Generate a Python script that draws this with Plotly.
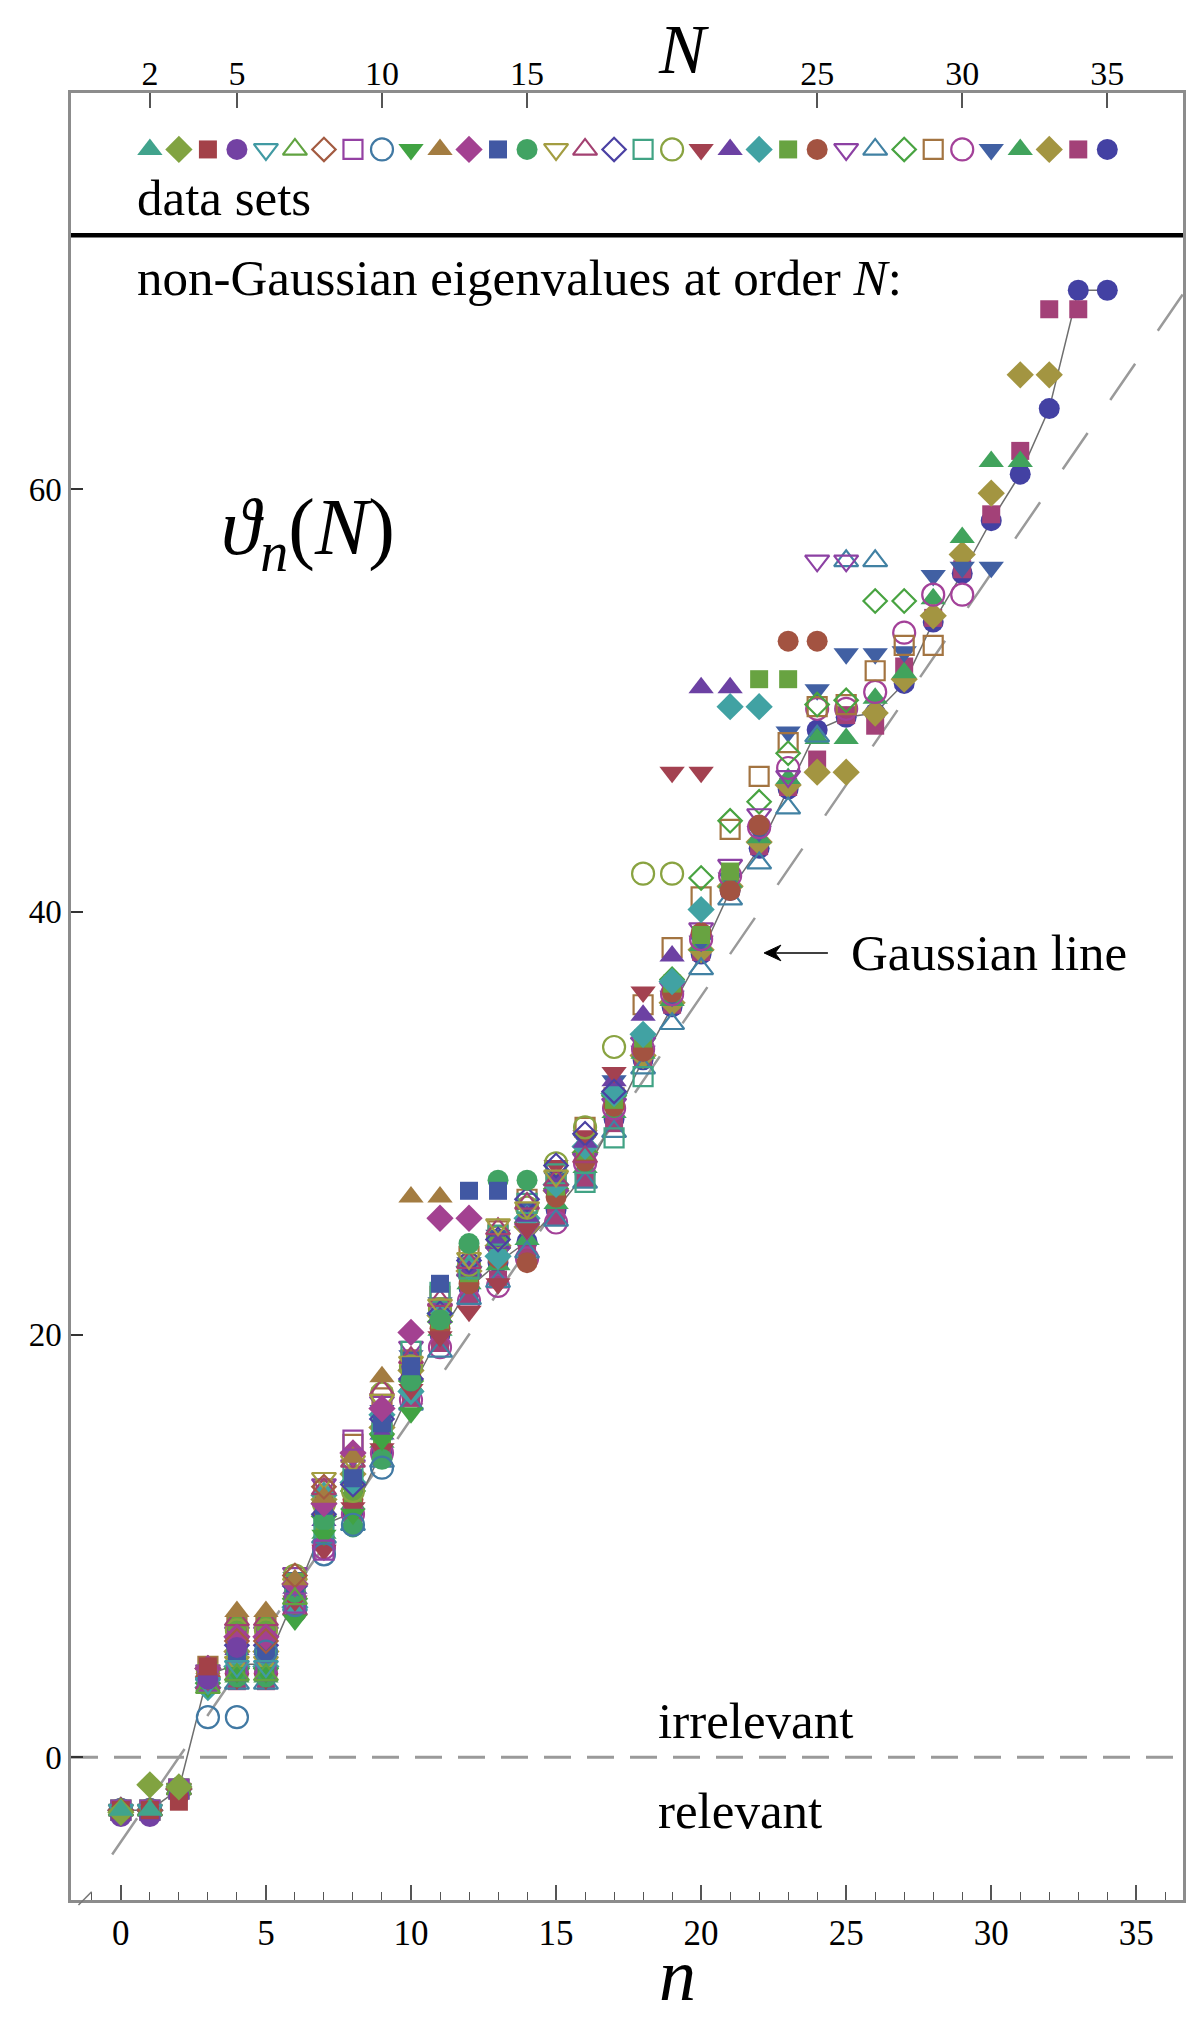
import colorsys
import plotly.graph_objects as go

# ---------------- data: eigenvalues theta_n(N), n = 0..N-1 ----------------
theta_N2 = [-2.5, -2.5]
theta_N3 = [-2.6, -1.3, -1.4]
theta_N4 = [-2.5, -2.5, -2.1, 4.3]
theta_N5 = [-2.8, -2.8, -1.8, 3.7, 5.2]
theta_N6 = [-2.5, -2.5, -1.6, 3.5, 4.3, 4.3]
theta_N7 = [-2.5, -2.5, -1.5, 3.3, 3.9, 3.9, 7.5]
theta_N8 = [-2.5, -2.5, -1.5, 3.8, 5.5, 5.5, 8.6, 12.8]
theta_N9 = [-2.5, -2.5, -1.5, 3.6, 4.1, 4.1, 7.3, 9.8, 15.0]
theta_N10 = [-2.5, -2.5, -1.5, 1.9, 1.9, 5.0, 7.2, 9.6, 11.0, 13.7]
theta_N11 = [-2.5, -2.5, -1.5, 3.3, 4.0, 4.0, 6.5, 10.5, 11.5, 15.0, 16.3]
theta_N12 = [-2.5, -2.5, -1.5, 4.2, 6.9, 6.9, 8.4, 12.3, 14.2, 18.0, 26.5, 26.5]
theta_N13 = [-2.5, -2.5, -1.5, 4.2, 5.7, 5.7, 8.2, 12.0, 14.4, 16.5, 20.1, 25.5, 25.5]
theta_N14 = [-2.5, -2.5, -1.5, 4.1, 5.0, 5.0, 8.1, 11.9, 13.2, 15.8, 18.5, 22.4, 26.8, 26.8]
theta_N15 = [-2.5, -2.5, -1.5, 4.0, 3.8, 3.8, 7.8, 11.2, 10.9, 14.1, 17.8, 20.7, 24.3, 27.3, 27.3]
theta_N16 = [-2.5, -2.5, -1.5, 4.0, 4.5, 4.5, 8.2, 13.2, 14.0, 16.9, 18.7, 21.4, 23.6, 25.2, 26.0, 27.5]
theta_N17 = [-2.5, -2.5, -1.5, 3.5, 6.5, 6.5, 7.0, 12.7, 14.0, 17.4, 18.9, 21.6, 23.4, 25.0, 26.2, 27.3, 28.4]
theta_N18 = [-2.5, -2.5, -1.5, 4.2, 5.3, 5.3, 8.1, 11.5, 12.9, 16.0, 17.9, 21.0, 23.5, 24.5, 26.4, 28.0, 29.5, 31.5]
theta_N19 = [-2.5, -2.5, -1.5, 3.8, 4.8, 4.8, 7.7, 10.9, 13.6, 15.5, 19.2, 22.0, 23.1, 24.7, 26.2, 27.6, 27.2, 29.3, 32.2]
theta_N20 = [-2.5, -2.5, -1.5, 4.1, 6.0, 6.0, 8.6, 12.0, 12.6, 17.2, 18.5, 21.2, 23.3, 24.6, 26.0, 28.1, 29.8, 33.6, 41.8, 41.8]
theta_N21 = [-2.5, -2.5, -1.5, 3.6, 3.7, 3.7, 7.4, 9.8, 11.8, 14.6, 17.4, 19.9, 21.1, 22.4, 25.0, 28.0, 29.4, 32.4, 36.2, 46.6, 46.6]
theta_N22 = [-2.5, -2.5, -1.5, 4.0, 5.1, 5.1, 8.0, 11.2, 14.5, 15.3, 18.6, 20.8, 23.0, 24.3, 25.6, 27.3, 29.1, 32.0, 35.1, 37.9, 50.6, 50.6]
theta_N23 = [-2.5, -2.5, -1.5, 3.3, 4.3, 4.3, 7.1, 12.4, 13.0, 16.2, 17.3, 21.0, 23.2, 23.7, 25.5, 27.1, 28.9, 31.4, 34.2, 36.7, 40.1, 49.7, 49.7]
theta_N24 = [-2.5, -2.5, -1.5, 4.2, 6.4, 6.4, 8.3, 10.8, 12.3, 15.2, 18.1, 20.7, 22.9, 24.2, 25.4, 27.0, 28.7, 31.1, 34.0, 36.6, 38.9, 41.9, 51.0, 51.0]
theta_N25 = [-2.5, -2.5, -1.5, 3.7, 4.9, 4.9, 7.8, 11.6, 12.2, 15.8, 18.0, 20.3, 22.4, 23.6, 23.4, 26.5, 28.2, 30.8, 33.4, 36.2, 39.0, 41.0, 44.1, 52.8, 52.8]
theta_N26 = [-2.5, -2.5, -1.5, 4.1, 5.9, 5.9, 8.7, 12.9, 13.8, 16.8, 19.4, 21.2, 22.6, 23.9, 25.0, 26.6, 28.3, 30.9, 33.8, 36.4, 39.2, 42.2, 44.6, 46.4, 56.6, 56.6]
theta_N27 = [-2.5, -2.5, -1.5, 3.9, 3.5, 3.5, 7.2, 10.4, 11.0, 14.0, 16.7, 19.2, 21.7, 22.5, 23.9, 25.4, 27.2, 29.6, 32.6, 34.7, 37.3, 40.6, 42.3, 44.9, 48.3, 56.6, 56.6]
theta_N28 = [-2.5, -2.5, -1.5, 3.5, 4.2, 4.2, 7.5, 11.4, 12.6, 15.3, 17.8, 20.6, 22.8, 24.1, 25.3, 26.9, 28.6, 31.3, 34.0, 36.8, 41.6, 44.3, 45.2, 47.5, 49.8, 50.0, 54.7, 54.7]
theta_N29 = [-2.5, -2.5, -1.5, 4.3, 6.2, 6.2, 8.0, 12.6, 14.8, 17.0, 18.8, 21.8, 23.7, 24.9, 26.4, 27.6, 29.8, 31.2, 35.6, 38.3, 40.7, 43.9, 46.4, 48.0, 49.7, 49.8, 51.4, 52.6, 52.6]
theta_N30 = [-2.5, -2.5, -1.5, 3.8, 4.0, 4.0, 6.9, 9.9, 11.5, 14.4, 16.9, 19.4, 21.6, 22.3, 23.6, 25.3, 28.1, 30.7, 33.5, 36.1, 38.7, 41.7, 44.0, 46.8, 49.6, 49.6, 50.4, 53.2, 55.0, 55.0]
theta_N31 = [-2.5, -2.5, -1.5, 4.0, 5.4, 5.4, 8.5, 11.8, 14.2, 16.4, 19.0, 21.5, 23.4, 24.7, 26.0, 27.4, 29.2, 32.0, 33.4, 36.0, 38.6, 41.6, 43.8, 48.5, 50.5, 52.2, 52.2, 52.3, 55.9, 56.3, 56.3]
theta_N32 = [-2.5, -2.5, -1.5, 3.4, 3.8, 3.8, 7.3, 10.6, 12.0, 14.9, 17.6, 20.2, 22.4, 23.3, 24.5, 26.2, 27.9, 30.5, 33.3, 35.8, 38.4, 41.4, 43.5, 46.3, 48.2, 48.2, 50.1, 51.3, 54.8, 57.7, 61.3, 61.3]
theta_N33 = [-2.5, -2.5, -1.5, 4.2, 5.0, 5.0, 8.2, 12.2, 13.4, 15.6, 18.3, 20.9, 23.0, 24.2, 25.1, 26.8, 28.6, 31.4, 33.2, 35.7, 38.2, 41.2, 43.3, 46.0, 46.6, 46.6, 49.4, 51.0, 54.0, 56.9, 59.8, 65.4, 65.4]
theta_N34 = [-2.5, -2.5, -1.5, 3.6, 3.6, 3.6, 7.0, 10.2, 11.2, 14.2, 17.0, 19.6, 21.8, 22.6, 23.8, 25.6, 27.4, 30.0, 33.1, 35.6, 38.1, 41.1, 43.1, 45.9, 47.2, 49.3, 48.8, 51.6, 53.9, 56.2, 58.8, 61.8, 68.5, 68.5]
theta_N35 = [-2.5, -2.5, -1.5, 3.9, 4.4, 4.4, 7.6, 11.0, 11.6, 14.5, 17.4, 20.0, 22.2, 23.4, 24.4, 25.9, 27.6, 30.2, 33.0, 35.5, 38.0, 41.0, 43.0, 45.8, 48.6, 49.2, 49.4, 50.8, 53.7, 56.0, 58.5, 60.7, 63.8, 69.4, 69.4]

data_sets = {
    2: theta_N2, 3: theta_N3, 4: theta_N4, 5: theta_N5, 6: theta_N6, 7: theta_N7,
    8: theta_N8, 9: theta_N9, 10: theta_N10, 11: theta_N11, 12: theta_N12,
    13: theta_N13, 14: theta_N14, 15: theta_N15, 16: theta_N16, 17: theta_N17,
    18: theta_N18, 19: theta_N19, 20: theta_N20, 21: theta_N21, 22: theta_N22,
    23: theta_N23, 24: theta_N24, 25: theta_N25, 26: theta_N26, 27: theta_N27,
    28: theta_N28, 29: theta_N29, 30: theta_N30, 31: theta_N31, 32: theta_N32,
    33: theta_N33, 34: theta_N34, 35: theta_N35,
}

top_tick_N = [2, 5, 10, 15, 25, 30, 35]
y_tick_vals = [0, 20, 40, 60]
x_tick_vals = [0, 5, 10, 15, 20, 25, 30, 35]

# ---------------- styles ----------------
FONT = "Liberation Serif"
SYMBOLS = ["circle", "square", "diamond", "triangle-up", "triangle-down",
           "circle-open", "square-open", "diamond-open", "triangle-up-open",
           "triangle-down-open"]
SIZES = {"circle": 21, "square": 18, "diamond": 21, "triangle-up": 22,
         "triangle-down": 22, "circle-open": 22, "square-open": 19,
         "diamond-open": 18, "triangle-up-open": 21, "triangle-down-open": 21}
ROW_Y = 76.06


def style_for(N):
    k = 35 - N
    h = (0.67 + 0.236068 * k) % 1.0
    r, g, b = colorsys.hsv_to_rgb(h, 0.6, 0.64)
    col = "rgb(%d,%d,%d)" % (round(r * 255), round(g * 255), round(b * 255))
    sym = SYMBOLS[k % 10]
    return col, sym


def marker_for(N):
    col, sym = style_for(N)
    is_open = sym.endswith("open")
    return dict(symbol=sym, size=SIZES[sym], color=col,
                line=dict(color=col, width=2.2 if is_open else 0))


fig = go.Figure()

# joined line for the highest order
fig.add_trace(go.Scatter(
    x=list(range(len(theta_N35))), y=theta_N35, mode="lines",
    line=dict(color="#6e6e6e", width=1.5), hoverinfo="skip", showlegend=False))

for N in sorted(data_sets.keys(), reverse=True):
    vals = data_sets[N]
    fig.add_trace(go.Scatter(x=list(range(len(vals))), y=vals, mode="markers",
                             marker=marker_for(N), showlegend=False,
                             name="N=%d" % N))

# data-set row (on top axis, positioned at n = N-1)
for N in sorted(data_sets.keys(), reverse=True):
    fig.add_trace(go.Scatter(
        x=[N - 1], y=[ROW_Y], xaxis="x2", mode="markers",
        marker=marker_for(N), showlegend=False, cliponaxis=False))

XR = [-1.719, 36.61]
YR = [-6.75, 78.73]
axis_line = "#8c8c8c"

fig.update_layout(
    width=1187, height=2019,
    margin=dict(l=71, r=1, t=93, b=119),
    paper_bgcolor="white", plot_bgcolor="white",
    font=dict(family=FONT, color="black"),
    xaxis=dict(range=XR, showgrid=False, zeroline=False, showline=True,
               linecolor=axis_line, linewidth=2.5, mirror=True,
               tickmode="array", tickvals=x_tick_vals, ticks="inside",
               ticklen=15, tickwidth=1.5, tickcolor="#555555",
               minor=dict(tickmode="linear", tick0=0, dtick=1, ticks="inside",
                          ticklen=8, tickwidth=1.2, tickcolor="#555555"),
               tickfont=dict(family=FONT, size=35, color="black")),
    xaxis2=dict(range=XR, overlaying="x", side="top", anchor="y",
                showgrid=False, zeroline=False, showline=False,
                tickmode="array", tickvals=[N - 1 for N in top_tick_N],
                ticktext=[str(N) for N in top_tick_N], ticks="inside",
                ticklen=15, tickwidth=1.5, tickcolor="#555555",
                tickfont=dict(family=FONT, size=34, color="black")),
    yaxis=dict(range=YR, showgrid=False, zeroline=False, showline=True,
               linecolor=axis_line, linewidth=2.5, mirror=True,
               tickmode="array", tickvals=y_tick_vals, ticks="inside",
               ticklen=12, tickwidth=1.8, tickcolor="#333333",
               tickfont=dict(family=FONT, size=33, color="black")),
)

shapes = [
    # zero line
    dict(type="line", xref="x", yref="y", x0=XR[0], x1=XR[1], y0=0, y1=0,
         line=dict(color="#9a9a9a", width=3, dash="27px,16px"), layer="below"),
    # Gaussian line theta = 2n - 4
    dict(type="line", xref="x", yref="y", x0=-0.3, y0=2 * (-0.3) - 4,
         x1=XR[1], y1=2 * XR[1] - 4,
         line=dict(color="#9a9a9a", width=2.5, dash="44px,40px"), layer="below"),
    # separator under the data-set row
    dict(type="line", xref="paper", yref="y", x0=0, x1=1, y0=72.0, y1=72.0,
         line=dict(color="black", width=4.5)),
    # small break mark at origin corner
    dict(type="line", xref="paper", yref="paper", x0=0.0067, y0=-0.0028,
         x1=0.0186, y1=0.0046, line=dict(color="#777777", width=1.5)),
    # arrow shaft for "Gaussian line"
    dict(type="line", xref="x", yref="y", x0=22.3, x1=24.37, y0=38.05, y1=38.05,
         line=dict(color="black", width=1.6)),
    # arrow head
    dict(type="path", xref="x", yref="y",
         path="M 22.17 38.05 L 22.75 38.42 L 22.55 38.05 L 22.75 37.68 Z",
         fillcolor="black", line=dict(color="black", width=1)),
]
fig.update_layout(shapes=shapes)

TXT = 51
ann = [
    dict(x=0.5, y=73.75, xref="x", yref="y", text="data sets", showarrow=False,
         xanchor="left", yanchor="middle", font=dict(size=TXT, family=FONT)),
    dict(x=0.5, y=70.0, xref="x", yref="y",
         text="non-Gaussian eigenvalues at order <i>N</i>:", showarrow=False,
         xanchor="left", yanchor="middle", font=dict(size=TXT, family=FONT)),
    dict(x=6.46, y=57.9, xref="x", yref="y",
         text="<i>ϑ</i><sub><i>n</i></sub>(<i>N</i>)", showarrow=False,
         xanchor="center", yanchor="middle", font=dict(size=80, family=FONT)),
    dict(x=25.1, y=38.05, xref="x", yref="y", text="Gaussian line",
         showarrow=False, xanchor="left", yanchor="middle",
         font=dict(size=TXT, family=FONT)),
    dict(x=18.45, y=1.7, xref="x", yref="y", text="irrelevant", showarrow=False,
         xanchor="left", yanchor="middle", font=dict(size=TXT, family=FONT)),
    dict(x=18.45, y=-2.55, xref="x", yref="y", text="relevant", showarrow=False,
         xanchor="left", yanchor="middle", font=dict(size=TXT, family=FONT)),
    dict(x=19.4, y=1.0238, xref="x", yref="paper", text="<i>N</i>",
         showarrow=False, xanchor="center", yanchor="middle",
         font=dict(size=70, family=FONT)),
    dict(x=19.2, y=-0.0655, xref="x", yref="paper", text="<i>n</i>",
         showarrow=False, xanchor="center", yanchor="bottom",
         font=dict(size=74, family=FONT)),
]
fig.update_layout(annotations=ann)

fig.write_html(
    "out.html",
    config={"displayModeBar": False},
    post_script="document.body.style.margin='0px';"
                "document.body.style.overflow='hidden';")
